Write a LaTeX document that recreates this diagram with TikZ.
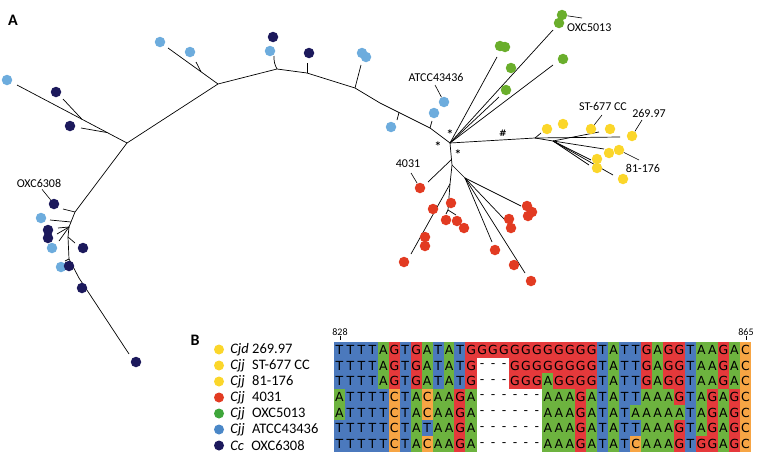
\documentclass[tikz,border=0pt]{standalone}
\usepackage{fontspec}
\setmainfont{Carlito}
\newfontfamily\seqfont{DejaVu Sans}
\usetikzlibrary{positioning, calc}
\definecolor{TreeBlue}{HTML}{6DACDD}
\definecolor{TreeNavy}{HTML}{1C195C}
\definecolor{TreeGreen}{HTML}{6AAE2C}
\definecolor{TreeYellow}{HTML}{FBD62A}
\definecolor{TreeRed}{HTML}{E23B22}
\definecolor{KeyGreen}{HTML}{3EA63A}
\definecolor{KeyBlue}{HTML}{4A87C7}
\definecolor{ntT}{HTML}{4B79BD}
\definecolor{ntA}{HTML}{6DB33F}
\definecolor{ntG}{HTML}{E5393B}
\definecolor{ntC}{HTML}{F7A544}
\def\gapchar{-}

\begin{document}
\begin{tikzpicture}[x=1pt, y=-1pt,
        leaf/.style={circle, inner sep=0pt, minimum size=10.5pt},
        branch/.style={line width=0.7pt, line join=round},
        leader/.style={line width=0.6pt},
        tag/.style={font=\fontsize{12}{14}\selectfont, inner sep=0pt},
        support/.style={font=\seqfont\bfseries\fontsize{9}{10}\selectfont, inner sep=0pt},
        key/.style={circle, inner sep=0pt, minimum size=10pt},
        keytext/.style={font=\fontsize{14.5}{16}\selectfont, inner sep=0pt},
        nuc/.style={font=\seqfont\fontsize{12.5}{14}\selectfont, inner sep=0pt},
        panel/.style={font=\bfseries\fontsize{16}{18}\selectfont, inner sep=0pt}]

    \useasboundingbox (0,0) rectangle (760,455);

    \node[panel] (pA) at (13,20) {A};
    \node[panel] (pB) at (195,340) {B};

    % backbone of the tree
    \coordinate (k1) at (129,354);
    \coordinate (k2) at (79,278);
    \coordinate (k3) at (69,259);
    \coordinate (k4) at (68,237);
    \coordinate (k5) at (69,227);
    \coordinate (k6) at (71,222);
    \coordinate (k7) at (75,212);
    \coordinate (k8) at (127,143);
    \coordinate (k9) at (218,84);
    \coordinate (k10) at (277,69);
    \coordinate (k11) at (307,73);
    \coordinate (k12) at (355,88);
    \coordinate (k13) at (380,103);
    \coordinate (k14) at (430,128);
    \coordinate (c) at (450,143);
    \draw[branch] (k1) -- (k2) -- (k3) -- (k4) -- (k5) -- (k6) -- (k7) -- (k8) -- (k9)
        -- (k10) -- (k11) -- (k12) -- (k13) -- (k14) -- (c);

    % Cc / Cjj ATCC side
    \coordinate (t1) at (17,85);
    \draw[branch] (k8) -- (t1);
    \draw[branch] ($(k8)!0.41!(t1)$) -- (63,99);
    \draw[branch] ($(k8)!0.18!(t1)$) -- (81,128);
    \coordinate (t2) at (168,48);
    \draw[branch] (k9) -- (t2);
    \draw[branch] ($(k9)!0.34!(t2)$) -- (196,62);
    \draw[branch] (k10) to[bend left=15] (274,56);
    \draw[branch] (k11) -- (307,63);
    \draw[branch] (k12) -- (361,65);
    \draw[branch] ($(k13)!0.38!(k14)$) -- (397,120);
    \draw[branch] (k14) -- (432,121);
    \draw[branch] (k7) -- (63,209);
    \draw[branch] (k6) -- (50,220);
    \draw[branch] (k5) -- (58,228);
    \draw[branch] (k5) -- (57,234);
    \draw[branch] (k5) -- (59,241);
    \draw[branch] (k4) -- (75,243);
    \draw[branch] (k3) -- (65,261);

    % Cjj OXC5013 side
    \draw[branch] (c) -- (497,57);
    \draw[branch] (c) -- (553,30);
    \draw[branch] (c) -- (499,97);
    \draw[branch] (c) -- (553,65);

    % Cjd side
    \coordinate (y0) at (535,138);
    \coordinate (y1) at (553,141);
    \draw[branch] (c) -- (y0) -- (620,137);
    \draw[branch] (y0) -- (541,133);
    \draw[branch] (y0) -- (y1);
    \draw[branch] (y1) -- (599,132);
    \draw[branch] (y1) -- (604,149);
    \draw[branch] (y1) -- (591,160);
    \draw[branch] (y1) -- (589,165);
    \draw[branch] (y1) -- (613,175);

    % Cjj 4031 side
    \coordinate (r0) at (452,165);
    \coordinate (r1) at (450,184);
    \coordinate (r2) at (448,210);
    \coordinate (r3) at (465,178);
    \draw[branch] (c) -- (r0) -- (r1) -- (r2);
    \draw[branch] ($(c)!0.75!(r0)$) -- (428,182);
    \draw[branch] (r1) -- (411,254);
    \draw[branch] (r2) -- (446,214);
    \draw[branch] (r2) -- (456,215);
    \draw[branch] (r0) -- (r3);
    \draw[branch] (r3) -- (521,206);
    \draw[branch] (r3) -- (505,220);
    \draw[branch] (r3) -- (492,242);
    \draw[branch] (r3) -- (525,273);

    % leaves
    \foreach \p [count=\i] in {(7,80),(160,42),(190,52),(270,51),(362,53),(366,57),(391,127),
            (434,113),(444,102),(41,218),(52,248),(61,267)}
        \node[leaf, fill=TreeBlue] (lb\i) at \p {};
    \foreach \p [count=\i] in {(56,92),(70,126),(273,37),(309,53),(54,204),(48,230),(48,238),
            (83,248),(69,266),(82,288),(136,362)}
        \node[leaf, fill=TreeNavy] (nv\i) at \p {};
    \foreach \p [count=\i] in {(562,15),(559,23),(500,46),(505,47),(511,68),(506,90),(563,59)}
        \node[leaf, fill=TreeGreen] (gr\i) at \p {};
    \foreach \p [count=\i] in {(547,129),(563,124),(591,129),(610,129),(632,136),(609,153),
            (619,150),(597,159),(597,168),(623,179)}
        \node[leaf, fill=TreeYellow] (yl\i) at \p {};
    \foreach \p [count=\i] in {(420,188),(433,209),(425,237),(425,246),(404,262),(451,203),
            (446,220),(457,221),(464,228),(527,206),(532,212),(528,216),(509,219),(511,228),
            (495,250),(514,265),(531,281)}
        \node[leaf, fill=TreeRed] (rd\i) at \p {};

    % strain labels
    \node[tag] (l6308) at (39,183) {OXC6308};
    \draw[leader] (l6308.south) ++(3,2) -- (nv5);
    \node[tag, anchor=west] (l5013) at (567,28) {OXC5013};
    \draw[leader] (gr1) -- (582,18);
    \node[tag] (l43436) at (436,77) {ATCC43436};
    \draw[leader] (435,85) -- (lb9);
    \node[tag] (l4031) at (408,164) {4031};
    \draw[leader] (411,173) -- (rd1);
    \node[tag] (l677) at (603,106) {ST-677 CC};
    \draw[leader] (602,115) -- (yl3);
    \node[tag] (l26997) at (649,113) {269.97};
    \draw[leader] (642,120) -- (yl5);
    \node[tag] (l81176) at (643,168) {81-176};
    \draw[leader] (yl7) -- (639,160);

    \node[support] (m1) at (450,133) {*};
    \node[support] (m2) at (438,145) {*};
    \node[support] (m3) at (458,153) {*};
    \node[support] (m4) at (503,133) {\#};

    % legend
    \foreach \col/\sp/\gap/\str [count=\r from 0] in {TreeYellow/Cjd/0/269.97,
            TreeYellow/Cjj/4/ST-677 CC, TreeYellow/Cjj/4/81-176, TreeRed/Cjj/4/4031,
            KeyGreen/Cjj/4/OXC5013, KeyBlue/Cjj/4/ATCC43436, TreeNavy/Cc/4/OXC6308} {
        \node[key, fill=\col] (key\r) at (219,{349.5+16*\r}) {};
        \node[keytext, right=6pt of key\r] (name\r) {\textit{\sp}\ \hspace{\gap pt}\str};
    }

    % alignment
    \foreach \seq [count=\r from 0] in {
            {T,T,T,T,A,G,T,G,A,T,A,T,G,G,G,G,G,G,G,G,G,G,G,G,T,A,T,T,G,A,G,G,T,A,A,G,A,C},
            {T,T,T,T,A,G,T,G,A,T,A,T,G,-,-,-,G,G,G,G,G,G,G,G,T,A,T,T,G,A,G,G,T,A,A,G,A,C},
            {T,T,T,T,A,G,T,G,A,T,A,T,G,-,-,-,G,G,G,A,G,G,G,G,T,A,T,T,G,A,G,G,T,A,A,G,A,C},
            {A,T,T,T,T,C,T,A,C,A,A,G,A,-,-,-,-,-,-,A,A,A,G,A,T,A,T,T,A,A,A,G,T,A,G,A,G,C},
            {A,T,T,T,T,C,T,A,C,A,A,G,A,-,-,-,-,-,-,A,A,A,G,A,T,A,T,A,A,A,A,A,T,A,G,A,G,C},
            {T,T,T,T,T,C,T,A,T,A,A,G,A,-,-,-,-,-,-,A,A,A,G,A,T,A,T,T,A,A,A,G,T,A,G,A,G,C},
            {T,T,T,T,T,C,T,A,C,A,A,G,A,-,-,-,-,-,-,A,A,A,G,A,T,A,T,C,A,A,A,G,T,G,G,A,G,C}} {
        \foreach \nt [count=\k from 0] in \seq {
            \pgfmathsetmacro\cx{334+10.97*\k}
            \pgfmathsetmacro\cy{342+15.7*\r}
            \ifx\nt\gapchar\else
                \fill[fill=nt\nt] (\cx-0.2,\cy-0.2) rectangle ++(11.4,16.1);
            \fi
            \node[nuc] (s\r-\k) at (\cx+5.49,\cy+7.85) {\nt};
        }
    }
    \node[font=\fontsize{10}{12}\selectfont, inner sep=0pt] (p828) at (340,332) {828};
    \draw[leader] (p828.south) -- ++(0,4);
    \node[font=\fontsize{10}{12}\selectfont, inner sep=0pt] (p865) at (746,332) {865};
    \draw[leader] (p865.south) -- ++(0,4);
\end{tikzpicture}
\end{document}
